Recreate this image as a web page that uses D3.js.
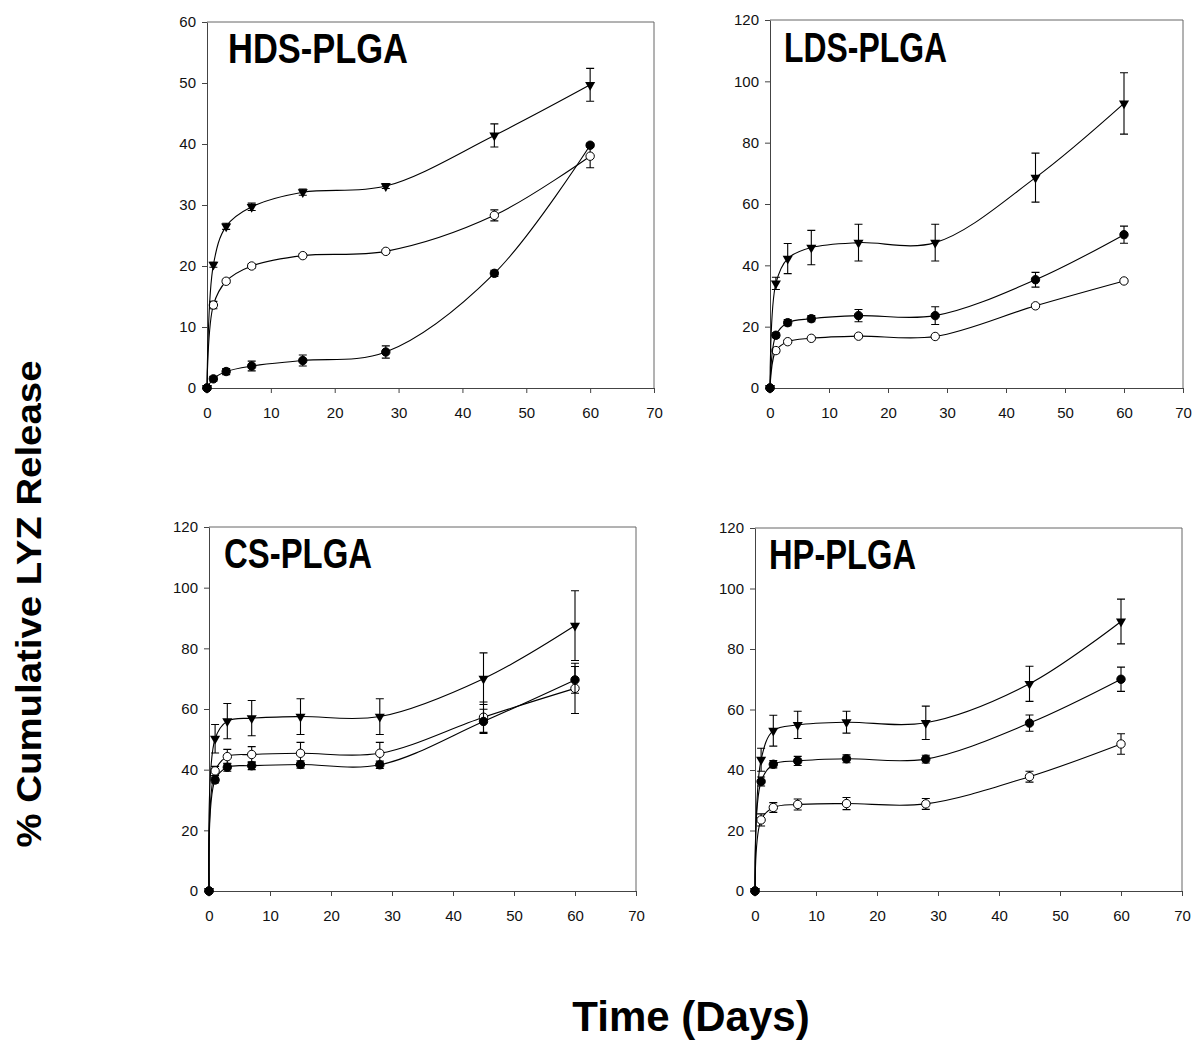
<!DOCTYPE html>
<html>
<head>
<meta charset="utf-8">
<script src="https://cdn.jsdelivr.net/npm/d3@7"></script>
<style>
  body { margin: 0; background: #fff; }
  text { font-family: "Liberation Sans", Arial, sans-serif; }
</style>
</head>
<body>
<svg id="chart" width="1194" height="1040"></svg>
<script>
// Sampling days (shared by every panel)
const days = [0, 1, 3, 7, 15, 28, 45, 60];
const xTicks = [0, 10, 20, 30, 40, 50, 60, 70];

// HDS-PLGA
const hdsTri = [0, 20.2, 26.5, 29.7, 32.1, 33.1, 41.4, 49.7];
const hdsTriErr = [0, 0.4, 0.5, 0.6, 0.5, 0.4, 1.9, 2.7];
const hdsFill = [0, 1.5, 2.7, 3.6, 4.5, 5.9, 18.8, 39.8];
const hdsFillErr = [0, 0.4, 0.5, 0.8, 0.9, 1.0, 0.5, 0.3];
const hdsOpen = [0, 13.6, 17.5, 20.0, 21.7, 22.4, 28.3, 38.0];
const hdsOpenErr = [0, 0.6, 0.3, 0.3, 0.3, 0.3, 0.9, 1.9];

// LDS-PLGA
const ldsTri = [0, 34.1, 42.2, 45.8, 47.4, 47.4, 68.6, 92.8];
const ldsTriErr = [0, 2.0, 4.9, 5.6, 6.0, 6.0, 8.0, 10.0];
const ldsFill = [0, 17.2, 21.3, 22.6, 23.6, 23.6, 35.3, 50.0];
const ldsFillErr = [0, 0.8, 1.0, 1.0, 2.0, 2.9, 2.4, 2.8];
const ldsOpen = [0, 12.2, 15.1, 16.2, 16.9, 16.8, 26.8, 34.9];
const ldsOpenErr = [0, 0.7, 0.4, 0.4, 0.4, 0.4, 0.5, 0.5];

// CS-PLGA
const csTri = [0, 50.2, 56.0, 57.0, 57.5, 57.5, 70.0, 87.5];
const csTriErr = [0, 4.7, 5.8, 5.8, 5.9, 5.9, 8.5, 11.5];
const csFill = [0, 36.6, 40.8, 41.3, 41.7, 41.6, 55.9, 69.6];
const csFillErr = [0, 1.0, 1.3, 1.3, 1.2, 1.2, 4.0, 4.4];
const csOpen = [0, 39.6, 44.3, 45.0, 45.4, 45.4, 57.3, 66.8];
const csOpenErr = [0, 1.5, 2.4, 2.6, 3.6, 3.6, 5.0, 8.3];

// HP-PLGA
const hpTri = [0, 43.4, 53.0, 54.9, 55.8, 55.6, 68.5, 89.1];
const hpTriErr = [0, 3.8, 5.1, 4.5, 3.6, 5.5, 5.8, 7.4];
const hpFill = [0, 36.2, 41.9, 43.0, 43.7, 43.6, 55.5, 70.0];
const hpFillErr = [0, 1.5, 1.2, 1.5, 1.3, 1.3, 2.7, 4.0];
const hpOpen = [0, 23.5, 27.6, 28.6, 28.9, 28.8, 37.8, 48.6];
const hpOpenErr = [0, 2.0, 1.6, 1.8, 2.0, 1.8, 1.8, 3.4];

const panelTitles = ["HDS-PLGA", "LDS-PLGA", "CS-PLGA", "HP-PLGA"];
const yMaxes = [60, 120, 120, 120];
const yStep = [10, 20, 20, 20];

// Page layout of each panel (pixels)
const layout = [
  { left: 207, right: 654, top: 22, bottom: 388, tx: 228, ty: 63, tw: 180 },
  { left: 770, right: 1183, top: 20, bottom: 388, tx: 784, ty: 62, tw: 163 },
  { left: 209, right: 636, top: 527, bottom: 891, tx: 224, ty: 568, tw: 148 },
  { left: 755, right: 1182, top: 528, bottom: 891, tx: 769, ty: 569, tw: 147 }
];

// drawn in this order: open circles, filled circles, triangles on top
const panelSeries = [
  [[hdsOpen, hdsOpenErr, "open"], [hdsFill, hdsFillErr, "fill"], [hdsTri, hdsTriErr, "tri"]],
  [[ldsOpen, ldsOpenErr, "open"], [ldsFill, ldsFillErr, "fill"], [ldsTri, ldsTriErr, "tri"]],
  [[csOpen, csOpenErr, "open"], [csFill, csFillErr, "fill"], [csTri, csTriErr, "tri"]],
  [[hpOpen, hpOpenErr, "open"], [hpFill, hpFillErr, "fill"], [hpTri, hpTriErr, "tri"]]
];

const svg = d3.select("#chart");
const axisColor = "#444";

layout.forEach((L, p) => {
  const x = d3.scaleLinear().domain([0, 70]).range([L.left, L.right]);
  const y = d3.scaleLinear().domain([0, yMaxes[p]]).range([L.bottom, L.top]);
  const g = svg.append("g");

  // frame (top and right)
  g.append("path")
    .attr("d", `M${L.left},${L.top}H${L.right}V${L.bottom}`)
    .attr("fill", "none").attr("stroke", "#666").attr("stroke-width", 1);

  const xAxis = g.append("g")
    .attr("transform", `translate(0,${L.bottom})`)
    .call(d3.axisBottom(x).tickValues(xTicks).tickSize(5).tickPadding(14).tickSizeOuter(0));
  const yAxis = g.append("g")
    .attr("transform", `translate(${L.left},0)`)
    .call(d3.axisLeft(y).tickValues(d3.range(0, yMaxes[p] + 1, yStep[p])).tickSize(5).tickPadding(6).tickSizeOuter(0));
  [xAxis, yAxis].forEach(a => {
    a.select(".domain").attr("stroke", axisColor);
    a.selectAll(".tick line").attr("stroke", axisColor);
    a.selectAll(".tick text").attr("font-size", 15).attr("fill", "#111")
      .style("font-family", "'Liberation Sans', Arial, sans-serif");
  });

  const line = d3.line()
    .x((d, i) => x(days[i]))
    .y(d => y(d))
    .curve(d3.curveCatmullRom.alpha(0.5));

  panelSeries[p].forEach(([vals, errs, kind]) => {
    const s = g.append("g");
    s.append("path").attr("d", line(vals))
      .attr("fill", "none").attr("stroke", "#000").attr("stroke-width", 1.1);

    // error bars
    vals.forEach((v, i) => {
      const e = errs[i];
      if (!e) return;
      const cx = x(days[i]);
      s.append("path")
        .attr("d", `M${cx},${y(v - e)}V${y(v + e)}M${cx - 4},${y(v - e)}H${cx + 4}M${cx - 4},${y(v + e)}H${cx + 4}`)
        .attr("fill", "none").attr("stroke", "#000").attr("stroke-width", 1.1);
    });

    // markers
    vals.forEach((v, i) => {
      const cx = x(days[i]), cy = y(v);
      if (kind === "tri") {
        s.append("path")
          .attr("d", d3.symbol(d3.symbolTriangle, 44)())
          .attr("transform", `translate(${cx},${cy}) rotate(180)`)
          .attr("fill", "#000");
      } else {
        s.append("circle").attr("cx", cx).attr("cy", cy).attr("r", 4.2)
          .attr("fill", kind === "fill" ? "#000" : "#fff")
          .attr("stroke", "#000").attr("stroke-width", 1);
      }
    });
  });

  g.append("text")
    .attr("x", L.tx).attr("y", L.ty)
    .attr("font-size", 43).attr("font-weight", "bold")
    .attr("textLength", L.tw).attr("lengthAdjust", "spacingAndGlyphs")
    .text(panelTitles[p]);
});

// shared axis titles
svg.append("text")
  .attr("transform", "translate(41,604) rotate(-90)")
  .attr("text-anchor", "middle")
  .attr("font-size", 35).attr("font-weight", "bold")
  .attr("textLength", 487).attr("lengthAdjust", "spacingAndGlyphs")
  .text("% Cumulative LYZ Release");

svg.append("text")
  .attr("x", 691).attr("y", 1031)
  .attr("text-anchor", "middle")
  .attr("font-size", 42).attr("font-weight", "bold")
  .text("Time (Days)");
</script>
</body>
</html>
